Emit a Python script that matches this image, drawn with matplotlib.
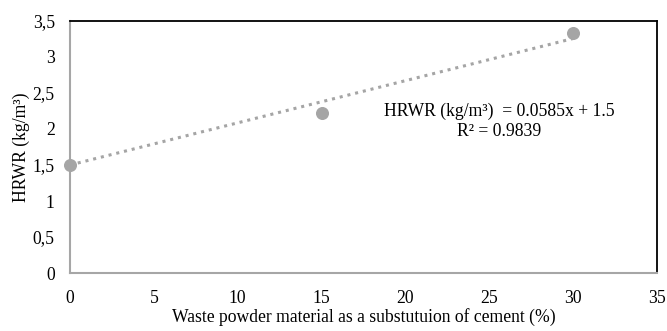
import numpy as np
import matplotlib.pyplot as plt
from matplotlib.ticker import FuncFormatter

# replacement level (%) and HRWR dosage (kg/m3)
replacement = [0, 15, 30]
hrwr = [1.5, 2.22, 3.33]

# linear trendline y = slope*x + intercept
slope = 0.0585
intercept = 1.5
r_squared = 0.9839

plt.rcParams['font.family'] = ['Liberation Serif', 'DejaVu Serif']
fs = 12.7

fig, ax = plt.subplots(figsize=(6.67, 3.31), dpi=100)
fig.subplots_adjust(left=0.105, right=0.985, top=0.937, bottom=0.175)

xfit = np.array([replacement[0], replacement[-1]])
ax.plot(xfit, slope * xfit + intercept, linestyle=(0, (1, 1.6)), color='#a5a5a5',
        linewidth=2.2, zorder=2)
ax.scatter(replacement, hrwr, s=70, color='#a5a5a5', zorder=3, clip_on=False)

ax.text(25.6, 2.24, "HRWR (kg/m\u00b3)  = 0.0585x + 1.5", ha='center', va='center', fontsize=fs)
ax.text(25.6, 1.97, f"R\u00b2 = {r_squared}", ha='center', va='center', fontsize=fs)

ax.set_xlim(0, 35)
ax.set_ylim(0, 3.5)
ax.set_xticks(np.arange(0, 36, 5))
ax.set_yticks(np.arange(0, 3.51, 0.5))
ax.yaxis.set_major_formatter(FuncFormatter(lambda v, p: f"{v:g}".replace('.', ',')))
ax.tick_params(length=0, labelsize=fs)
ax.tick_params(axis='x', pad=12)
ax.tick_params(axis='y', pad=11)

for side in ['left', 'bottom']:
    ax.spines[side].set_color('#a6a6a6')
    ax.spines[side].set_linewidth(1.5)
for side in ['top', 'right']:
    ax.spines[side].set_color('black')
    ax.spines[side].set_linewidth(1.3)

ax.set_xlabel("Waste powder material as a substutuion of cement (%)", fontsize=fs, labelpad=1)
ax.set_ylabel("HRWR (kg/m\u00b3)", fontsize=fs, labelpad=2)

plt.savefig("out.png", dpi=100)
